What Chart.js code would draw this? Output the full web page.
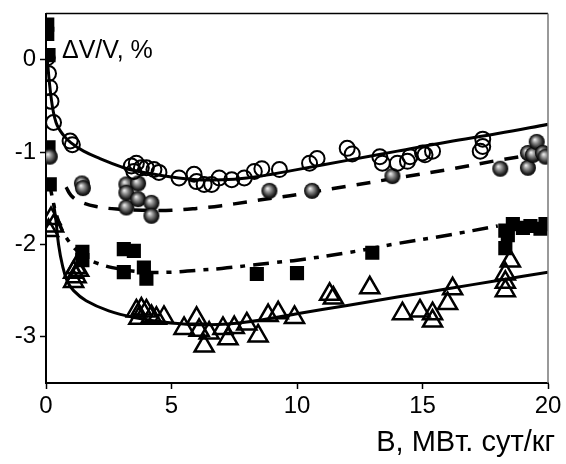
<!DOCTYPE html>
<html>
<head>
<meta charset="utf-8">
<script src="https://cdn.jsdelivr.net/npm/chart.js@4/dist/chart.umd.min.js"></script>
<style>
  html, body { margin: 0; padding: 0; background: #fff; }
  #box { width: 566px; height: 464px; }
</style>
</head>
<body>
<div id="box"><canvas id="swelling"></canvas></div>
<script>
// open circles + solid curve
const circX = [0.05, 0.1, 0.15, 0.2, 0.3, 0.96, 1.05, 3.4, 3.6, 3.8, 4.0, 4.3, 4.5, 3.5, 5.3, 5.9, 6.0, 6.3, 6.6, 6.9, 7.4, 7.9, 8.3, 8.6, 9.3, 10.5, 10.8, 12.0, 12.2, 13.3, 13.4, 14.0, 14.4, 14.5, 15.0, 15.1, 15.4, 17.3, 17.4, 17.4];
const circY = [0.02, -0.15, -0.3, -0.45, -0.68, -0.88, -0.92, -1.15, -1.12, -1.17, -1.17, -1.19, -1.22, -1.21, -1.28, -1.24, -1.32, -1.35, -1.35, -1.28, -1.3, -1.28, -1.21, -1.18, -1.19, -1.12, -1.07, -0.96, -1.02, -1.05, -1.12, -1.12, -1.1, -1.05, -1.01, -1.03, -0.99, -0.99, -0.86, -0.94];
const fit1X = [0.02, 0.2, 0.4, 0.7, 1, 1.5, 2.15, 3, 3.5, 5, 6, 7, 8, 9, 10, 12, 14, 16, 18, 20];
const fit1Y = [0.1, -0.4, -0.68, -0.82, -0.9, -0.99, -1.07, -1.16, -1.2, -1.27, -1.3, -1.3, -1.28, -1.24, -1.19, -1.09, -0.99, -0.89, -0.8, -0.7];

// grey balls + dashed curve
const ballX = [0.15, 1.43, 1.47, 3.2, 3.67, 3.2, 3.2, 3.67, 4.2, 4.2, 8.9, 10.6, 13.8, 18.1, 19.2, 19.2, 19.4, 19.55, 19.8, 19.9];
const ballY = [-1.05, -1.34, -1.39, -1.35, -1.34, -1.6, -1.44, -1.51, -1.55, -1.69, -1.42, -1.42, -1.26, -1.18, -1.17, -1.01, -1.03, -0.89, -1.01, -1.05];
const fit2X = [0.8, 1.0, 1.3, 2, 3, 4, 5, 6, 7, 8, 9, 10, 12, 14, 16, 18, 20];
const fit2Y = [-1.38, -1.47, -1.53, -1.59, -1.62, -1.63, -1.63, -1.61, -1.58, -1.54, -1.5, -1.46, -1.37, -1.28, -1.19, -1.09, -1.0];

// filled squares + dash-dot curve
const sqX = [0.05, 0.05, 0.1, 0.1, 0.15, 1.45, 1.45, 3.1, 3.5, 3.1, 3.9, 4.0, 8.4, 10.0, 13.0, 18.3, 18.3, 18.6, 19.0, 19.3, 19.7, 18.4, 19.9];
const sqY = [0.38, 0.28, 0.05, -0.95, -1.35, -2.08, -2.17, -2.05, -2.07, -2.3, -2.25, -2.37, -2.32, -2.31, -2.09, -2.04, -1.85, -1.78, -1.82, -1.8, -1.83, -1.9, -1.78];
const fit3X = [0.1, 0.5, 1, 1.5, 2, 3, 4, 5, 6, 7, 8, 9, 10, 12, 14, 16, 18];
const fit3Y = [-1.3, -1.75, -2.0, -2.12, -2.2, -2.27, -2.3, -2.3, -2.28, -2.26, -2.23, -2.2, -2.17, -2.09, -1.99, -1.9, -1.8];

// open triangles + solid curve
const triX = [0.1, 0.2, 0.3, 1.1, 1.2, 1.1, 1.2, 1.3, 3.6, 3.8, 4.0, 4.2, 3.7, 4.4, 4.7, 5.5, 6.0, 6.1, 6.3, 6.5, 7.05, 7.25, 7.5, 8.0, 8.45, 8.85, 9.25, 9.9, 11.3, 11.45, 12.9, 14.2, 14.9, 15.4, 15.4, 16.0, 16.2, 18.5, 18.3, 18.3, 18.3];
const triY = [-1.85, -1.72, -1.8, -2.3, -2.25, -2.4, -2.35, -2.28, -2.72, -2.7, -2.72, -2.78, -2.8, -2.8, -2.79, -2.91, -2.8, -2.93, -3.1, -2.96, -2.91, -3.02, -2.9, -2.86, -2.99, -2.77, -2.74, -2.79, -2.54, -2.58, -2.47, -2.75, -2.72, -2.75, -2.83, -2.64, -2.48, -2.18, -2.32, -2.41, -2.5];
const fit4X = [0.3, 0.4, 0.5, 0.65, 0.85, 1.1, 1.6, 2.5, 3.5, 5, 6.5, 8, 10, 12, 14, 16, 18, 20];
const fit4Y = [-1.55, -1.75, -2.0, -2.22, -2.4, -2.5, -2.61, -2.72, -2.79, -2.85, -2.87, -2.84, -2.75, -2.66, -2.57, -2.48, -2.39, -2.3];

const xTicks = [0, 5, 10, 15, 20];
const yTicks = [0, -1, -2, -3];
const xTitle = "B, MBт. сут/кг";
const yTitle = "ΔV/V, %";

const pts = (xs, ys) => xs.map((x, i) => ({ x: x, y: ys[i] }));

// grey shaded ball used as point style
function makeBall(r) {
  const c = document.createElement("canvas");
  c.width = c.height = 2 * r + 2;
  const g = c.getContext("2d");
  const cx = r + 1, cy = r + 1;
  const grad = g.createRadialGradient(cx - r * 0.25, cy - r * 0.3, 0.5, cx, cy, r);
  grad.addColorStop(0, "#e8e8e8");
  grad.addColorStop(0.35, "#8a8a8a");
  grad.addColorStop(0.75, "#2a2a2a");
  grad.addColorStop(1, "#000");
  g.fillStyle = grad;
  g.beginPath();
  g.arc(cx, cy, r, 0, Math.PI * 2);
  g.fill();
  return c;
}
const ball = makeBall(8);

const frameText = {
  id: "frameText",
  afterDraw(chart) {
    const { ctx, chartArea: a } = chart;
    ctx.save();
    ctx.strokeStyle = "#000";
    ctx.lineWidth = 1.5;
    ctx.beginPath();
    ctx.moveTo(a.left, a.top);
    ctx.lineTo(a.right, a.top);
    ctx.stroke();
    ctx.strokeStyle = "#777";
    ctx.beginPath();
    ctx.moveTo(a.right, a.top);
    ctx.lineTo(a.right, a.bottom);
    ctx.stroke();
    ctx.fillStyle = "#000";
    ctx.font = "25px 'Liberation Sans', Arial, sans-serif";
    ctx.textAlign = "left";
    ctx.textBaseline = "alphabetic";
    ctx.fillText(yTitle, a.left + 16, a.top + 44);
    ctx.font = "29px 'Liberation Sans', Arial, sans-serif";
    ctx.textAlign = "right";
    ctx.fillText(xTitle, a.right + 7, a.bottom + 68);
    ctx.restore();
  }
};

const tickFont = { family: "'Liberation Sans', Arial, sans-serif", size: 24 };

new Chart(document.getElementById("swelling"), {
  type: "scatter",
  data: {
    datasets: [
      { data: pts(fit1X, fit1Y), showLine: true, borderColor: "#000", borderWidth: 3, pointRadius: 0, tension: 0.4, order: 5 },
      { data: pts(fit2X, fit2Y), showLine: true, borderColor: "#000", borderWidth: 3.5, borderDash: [14, 11], pointRadius: 0, tension: 0.4, order: 6 },
      { data: pts(fit3X, fit3Y), showLine: true, borderColor: "#000", borderWidth: 3.5, borderDash: [16, 8, 5, 8], pointRadius: 0, tension: 0.4, order: 7 },
      { data: pts(fit4X, fit4Y), showLine: true, borderColor: "#000", borderWidth: 3, pointRadius: 0, tension: 0.4, order: 8 },
      { data: pts(circX, circY), pointStyle: "circle", pointRadius: 7.5, borderWidth: 2, borderColor: "#000", backgroundColor: "rgba(255,255,255,0)", order: 1 },
      { data: pts(ballX, ballY), pointStyle: ball, pointRadius: 8, order: 2 },
      { data: pts(sqX, sqY), pointStyle: "rect", pointRadius: 10, borderWidth: 0, backgroundColor: "#000", borderColor: "#000", order: 3 },
      { data: pts(triX, triY), pointStyle: "triangle", pointRadius: 11, borderWidth: 2.5, borderColor: "#000", backgroundColor: "rgba(255,255,255,0)", order: 4 }
    ]
  },
  options: {
    responsive: true,
    maintainAspectRatio: false,
    animation: false,
    layout: { padding: { left: 0, right: 18, top: 11, bottom: 0 } },
    plugins: { legend: { display: false }, tooltip: { enabled: false } },
    elements: { point: { hoverRadius: 0 } },
    scales: {
      x: {
        type: "linear",
        min: 0,
        max: 20,
        afterBuildTicks: s => { s.ticks = xTicks.map(v => ({ value: v })); },
        afterFit: s => { s.height = 81; s.paddingLeft = 0; s.paddingRight = 0; },
        ticks: { color: "#000", font: tickFont, padding: 3, maxRotation: 0 },
        grid: { drawOnChartArea: false, drawTicks: true, tickLength: 6, tickWidth: 1.5, color: "#000" },
        border: { display: true, color: "#000", width: 2 }
      },
      y: {
        type: "linear",
        min: -3.5,
        max: 0.5,
        afterBuildTicks: s => { s.ticks = yTicks.map(v => ({ value: v })); },
        afterFit: s => { s.width = 46; s.paddingTop = 0; s.paddingBottom = 0; },
        ticks: { color: "#000", font: tickFont, padding: 4 },
        grid: { drawOnChartArea: false, drawTicks: true, tickLength: 6, tickWidth: 1.5, color: "#000" },
        border: { display: true, color: "#000", width: 2 }
      }
    }
  },
  plugins: [frameText]
});
</script>
</body>
</html>
